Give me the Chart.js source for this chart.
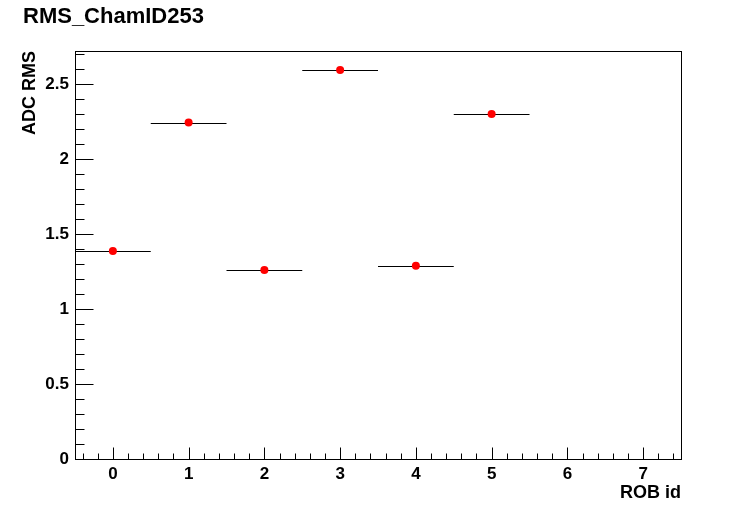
<!DOCTYPE html>
<html>
<head>
<meta charset="utf-8">
<script src="https://cdn.jsdelivr.net/npm/chart.js@4/dist/chart.umd.min.js"></script>
<style>
html,body{margin:0;padding:0;background:#fff;}
#wrap{width:756px;height:511px;}
</style>
</head>
<body>
<div id="wrap"><canvas id="c" width="756" height="511"></canvas></div>
<script>
const chartTitle = "RMS_ChamID253";
const xTitle = "ROB id";
const yTitle = "ADC RMS";
const robIds = [0, 1, 2, 3, 4, 5];
const adcRms = [1.387, 2.243, 1.26, 2.593, 1.289, 2.30];
const binHalfWidth = 0.5;
const xTickValues = [0, 1, 2, 3, 4, 5, 6, 7];
const yTickValues = [0, 0.5, 1, 1.5, 2, 2.5];
const xRange = [-0.5, 7.5];
const yRange = [0, 2.72];

const FONT = "'Liberation Sans', Arial, sans-serif";

const histPlugin = {
  id: 'histPlugin',
  beforeDatasetsDraw(chart) {
    const ctx = chart.ctx;
    const xs = chart.scales.x, ys = chart.scales.y;
    ctx.save();
    ctx.strokeStyle = '#000';
    ctx.lineWidth = 1.2;
    robIds.forEach((x, i) => {
      const y = Math.round(ys.getPixelForValue(adcRms[i])) + 0.5;
      ctx.beginPath();
      ctx.moveTo(xs.getPixelForValue(x - binHalfWidth), y);
      ctx.lineTo(xs.getPixelForValue(x + binHalfWidth), y);
      ctx.stroke();
    });
    ctx.restore();
  },
  afterDraw(chart) {
    const ctx = chart.ctx;
    const a = chart.chartArea;
    const xs = chart.scales.x, ys = chart.scales.y;
    ctx.save();
    ctx.strokeStyle = '#000';
    ctx.lineWidth = 1;
    const L = Math.round(a.left) + 0.5, R = Math.round(a.right) + 0.5;
    const T = Math.round(a.top) + 0.5, B = Math.round(a.bottom) + 0.5;
    ctx.strokeRect(L, T, R - L, B - T);
    ctx.beginPath();
    // y ticks: major every 0.5, minor every 0.1
    for (let k = 0; k <= 27; k++) {
      const v = k * 0.1;
      if (v > yRange[1] + 1e-9) break;
      const y = Math.round(ys.getPixelForValue(v)) + 0.5;
      const len = (k % 5 === 0) ? 18 : 9;
      ctx.moveTo(L, y); ctx.lineTo(L + len, y);
    }
    // x ticks: major every 1, minor every 0.2
    for (let k = -2; k <= 37; k++) {
      const v = k * 0.2;
      if (v <= xRange[0] || v >= xRange[1]) continue;
      const x = Math.round(xs.getPixelForValue(v)) + 0.5;
      const len = (k % 5 === 0) ? 12 : 6;
      ctx.moveTo(x, B); ctx.lineTo(x, B - len);
    }
    ctx.stroke();
    ctx.restore();
  }
};

new Chart(document.getElementById('c'), {
  type: 'scatter',
  data: {
    datasets: [{
      data: robIds.map((x, i) => ({x: x, y: adcRms[i]})),
      backgroundColor: '#ff0000',
      borderColor: '#ff0000',
      pointRadius: 4,
      pointHoverRadius: 4,
      borderWidth: 0
    }]
  },
  options: {
    responsive: false,
    animation: false,
    events: [],
    layout: {padding: {left: 23, right: 75, top: 0, bottom: 0}},
    plugins: {
      legend: {display: false},
      tooltip: {enabled: false},
      title: {
        display: true,
        text: chartTitle,
        align: 'start',
        color: '#000',
        font: {family: FONT, size: 22, weight: 'bold'},
        padding: {top: 4, bottom: 20.6}
      }
    },
    scales: {
      x: {
        type: 'linear',
        min: xRange[0],
        max: xRange[1],
        grid: {display: false, drawTicks: false},
        border: {display: false},
        afterBuildTicks: s => { s.ticks = xTickValues.map(v => ({value: v})); },
        afterFit: s => { s.height = 52; },
        ticks: {
          color: '#000',
          padding: 5,
          maxRotation: 0,
          autoSkip: false,
          font: {family: FONT, size: 17, weight: 'bold'},
          callback: v => String(v)
        },
        title: {
          display: true,
          text: xTitle,
          align: 'end',
          color: '#000',
          font: {family: FONT, size: 18, weight: 'bold'},
          padding: {top: 0, bottom: 7}
        }
      },
      y: {
        type: 'linear',
        min: yRange[0],
        max: yRange[1],
        grid: {display: false, drawTicks: false},
        border: {display: false},
        afterBuildTicks: s => { s.ticks = yTickValues.map(v => ({value: v})); },
        afterFit: s => { s.width = 52; },
        ticks: {
          color: '#000',
          padding: 6,
          autoSkip: false,
          font: {family: FONT, size: 17, weight: 'bold'},
          callback: v => String(v)
        },
        title: {
          display: true,
          text: yTitle,
          align: 'end',
          color: '#000',
          font: {family: FONT, size: 18, weight: 'bold'},
          padding: {top: -4, bottom: 0}
        }
      }
    }
  },
  plugins: [histPlugin]
});
</script>
</body>
</html>
